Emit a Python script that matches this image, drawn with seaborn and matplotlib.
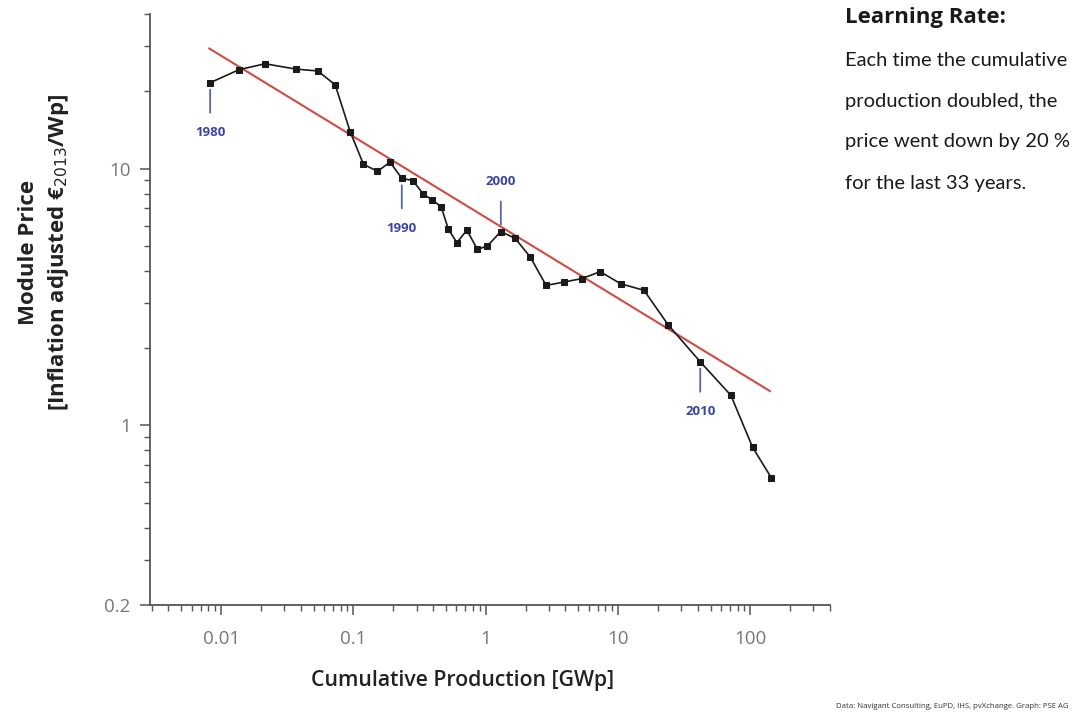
import numpy as np
import pandas as pd
import matplotlib
matplotlib.use("Agg")
import matplotlib.pyplot as plt
import seaborn as sns
from matplotlib.ticker import FixedLocator, FixedFormatter, LogLocator, NullFormatter

# ---------------- data ----------------
years = list(range(1980, 2014))
cum_production = [0.00826, 0.0137, 0.0215, 0.0369, 0.0538, 0.0728, 0.0944, 0.119, 0.152,
                  0.189, 0.232, 0.281, 0.338, 0.394, 0.460, 0.522, 0.605, 0.720, 0.865, 1.03,
                  1.30, 1.67, 2.17, 2.86, 3.92, 5.32, 7.33, 10.5, 15.7, 24.0,
                  41.8, 71.3, 104.0, 144.0]
module_price = [21.6, 24.3, 25.6, 24.4, 24.0, 21.2, 13.95, 10.4, 9.76,
                10.6, 9.17, 8.98, 7.96, 7.55, 7.11, 5.81, 5.15, 5.76, 4.85, 5.00,
                5.69, 5.35, 4.53, 3.51, 3.62, 3.73, 3.97, 3.56, 3.36, 2.46,
                1.77, 1.31, 0.822, 0.626]
fit_x = [0.0081, 141.0]
fit_y = [29.4, 1.36]
label_years = [1980, 1990, 2000, 2010]
label_above = [False, False, True, False]
x_ticks = [0.01, 0.1, 1, 10, 100]
x_tick_labels = ["0.01", "0.1", "1", "10", "100"]
y_ticks = [0.2, 1, 10]
y_tick_labels = ["0.2", "1", "10"]

df = pd.DataFrame({"year": years, "production": cum_production, "price": module_price})
fit_df = pd.DataFrame({"production": fit_x, "price": fit_y})

# ---------------- style ----------------
sns.set_style("ticks")
plt.rcParams["font.family"] = ["Open Sans", "DejaVu Sans"]

W, H = 1073, 721
fig = plt.figure(figsize=(W / 100, H / 100), dpi=100)
ax = fig.add_axes([150 / W, 1 - 605 / H, 680 / W, 591 / H])

sns.lineplot(data=df, x="production", y="price", ax=ax, sort=False,
             color="#1a1a1a", lw=1.2, marker="s", markersize=4.5,
             markeredgecolor="#1a1a1a", markerfacecolor="#1a1a1a", zorder=3)
sns.lineplot(data=fit_df, x="production", y="price", ax=ax, sort=False,
             color="#d24a42", lw=1.5, zorder=2)

ax.set_xscale("log")
ax.set_yscale("log")
ax.set_xlim(0.0029, 400)
ax.set_ylim(0.2, 40)

ax.xaxis.set_major_locator(FixedLocator(x_ticks))
ax.xaxis.set_major_formatter(FixedFormatter(x_tick_labels))
ax.xaxis.set_minor_locator(LogLocator(base=10, subs=np.arange(2, 10), numticks=50))
ax.xaxis.set_minor_formatter(NullFormatter())
ax.yaxis.set_major_locator(FixedLocator(y_ticks))
ax.yaxis.set_major_formatter(FixedFormatter(y_tick_labels))
ax.yaxis.set_minor_locator(LogLocator(base=10, subs=np.arange(2, 10), numticks=50))
ax.yaxis.set_minor_formatter(NullFormatter())

for s in ["top", "right"]:
    ax.spines[s].set_visible(False)
for s in ["left", "bottom"]:
    ax.spines[s].set_color("#555555")
    ax.spines[s].set_linewidth(1.3)

ax.tick_params(which="major", direction="out", length=7, width=1.1, color="#555555",
               labelsize=13.5, labelcolor="#777777")
ax.tick_params(axis="x", which="major", pad=11)
ax.tick_params(axis="y", which="major", pad=7)
ax.tick_params(which="minor", direction="out", length=4, width=1.0, color="#555555")

ax.set_xlabel("Cumulative Production [GWp]", fontsize=15.3, color="#222222", fontweight="semibold")
ax.xaxis.set_label_coords(0.46, -0.11)
ax.set_ylabel("Module Price\n[Inflation adjusted €$_{2013}$/Wp]", fontsize=16,
              fontweight="bold", color="#222222", linespacing=1.38)
ax.yaxis.set_label_coords(-0.116, 0.596)

# year annotations
blue = "#3a44a8"
for yr, above in zip(label_years, label_above):
    row = df[df["year"] == yr].iloc[0]
    xy = (row["production"], row["price"])
    sign = 1 if above else -1
    ax.annotate("", xy=xy, xycoords="data", xytext=(0, sign * 30), textcoords="offset pixels",
                arrowprops=dict(arrowstyle="-", color="#5a64a8", lw=1.3,
                                shrinkA=0, shrinkB=5))
    ax.annotate(str(yr), xy=xy, xycoords="data", xytext=(0, sign * 50),
                textcoords="offset pixels", ha="center", va="center",
                color=blue, fontsize=9.5, fontweight="bold")

# right-hand text
fig.text(845 / W, 1 - 17 / H, "Learning Rate:", fontsize=16, fontweight="bold",
         color="#1a1a1a", va="center", ha="left")
lines = ["Each time the cumulative", "production doubled, the",
         "price went down by 20 %", "for the last 33 years."]
for i, t in enumerate(lines):
    fig.text(845 / W, 1 - (60 + 41 * i) / H, t, fontsize=14.5, color="#1a1a1a",
             va="center", ha="left", family=["Lato", "DejaVu Sans"])

fig.text(836 / W, 1 - 706 / H, "Data: Navigant Consulting, EuPD, IHS, pvXchange. Graph: PSE AG",
         fontsize=5.6, color="#333333", va="center", ha="left")

fig.savefig("out.png", dpi=100)
